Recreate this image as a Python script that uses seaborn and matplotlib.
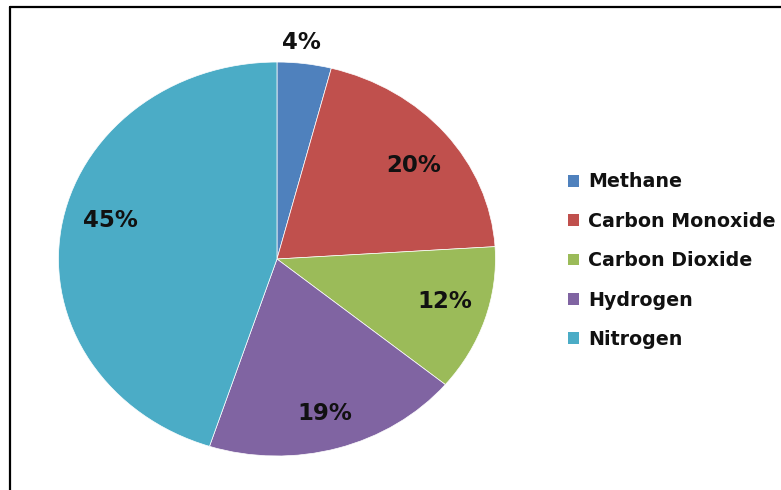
import matplotlib
matplotlib.use("Agg")
import matplotlib.pyplot as plt
import seaborn as sns
from matplotlib.lines import Line2D
from matplotlib.patches import Patch

sns.set_theme(style="white")
plt.rcParams['font.family'] = ['DejaVu Sans']
plt.rcParams['text.color'] = '#111111'

categories = ["Methane", "Carbon Monoxide", "Carbon Dioxide", "Hydrogen", "Nitrogen"]
values = [4, 20, 12, 19, 45]
colors = ["#4F81BD", "#C0504D", "#9BBB59", "#8064A2", "#4BACC6"]
# label anchor positions (layout, in pie-radius units)
label_pos = [(0.114, 1.10), (0.624, 0.477), (0.769, -0.218), (0.220, -0.782), (-0.764, 0.198)]

fig = plt.figure(figsize=(7.81, 4.90), dpi=100)
ax = fig.add_axes([0.0749, 0.0694, 0.5595, 0.804])
wedges, _ = ax.pie(values, colors=colors, startangle=90, counterclock=False,
                   radius=1.0, wedgeprops=dict(linewidth=0.5, edgecolor="white"))
ax.set_aspect('auto')
ax.set_xlim(-1, 1)
ax.set_ylim(-1, 1)
ax.axis('off')

for v, (x, y) in zip(values, label_pos):
    ax.text(x, y, f"{v}%", ha='center', va='center',
            fontsize=16.5, fontweight='bold', color='#111111')

handles = [Patch(facecolor=c, edgecolor='none') for c in colors]
leg = fig.legend(handles, categories, loc='upper left', bbox_to_anchor=(0.727, 0.648),
                 frameon=False, prop=dict(weight='bold', size=13.7),
                 handlelength=0.57, handleheight=0.57, handletextpad=0.5,
                 labelspacing=1.07, borderaxespad=0, borderpad=0)
for t in leg.get_texts():
    t.set_color('#111111')

# document frame lines
fig.add_artist(Line2D([10/781, 10/781], [0, 1 - 7/490], transform=fig.transFigure,
                      color='black', linewidth=1.6))
fig.add_artist(Line2D([10/781, 1], [1 - 7/490, 1 - 7/490], transform=fig.transFigure,
                      color='black', linewidth=1.6))

fig.savefig("out.png", dpi=100)
